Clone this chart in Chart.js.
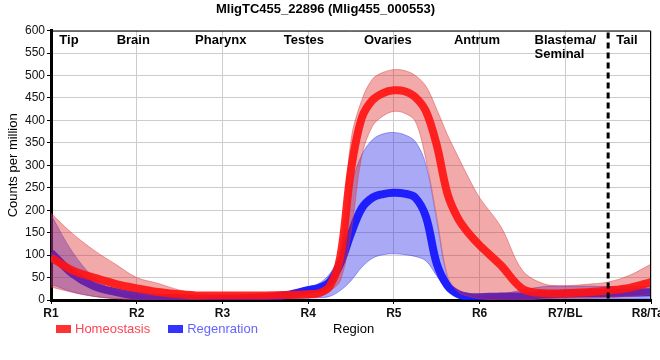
<!DOCTYPE html>
<html lang="en">
<head>
<meta charset="utf-8">
<script src="https://cdn.jsdelivr.net/npm/chart.js@4.4.1/dist/chart.umd.min.js"></script>
<style>
    html, body { margin: 0; padding: 0; background: #fff; overflow: hidden; }
    .chartBox { position: relative; width: 660px; height: 360px; }
    .legend { position: absolute; top: 321px; left: 56px; display: flex; align-items: center;
        font: 13px "Liberation Sans", Arial, sans-serif; }
    .legend span.box { display: inline-block; width: 15px; height: 8px; margin-right: 4px; }
    .legend span.txt { margin-right: 18px; }
    .xTitle { position: absolute; top: 321px; left: 333px; font: 13px "Liberation Sans", Arial, sans-serif; color: #000; }
</style>
</head>
<body>
<div class="chartBox">
    <canvas id="regionChart" width="660" height="360"></canvas>
    <div class="legend">
        <span class="box" style="background:#ff3333"></span><span class="txt" style="color:#ff4455">Homeostasis</span>
        <span class="box" style="background:#3333ff"></span><span class="txt" style="color:#6666ff">Regenration</span>
    </div>
    <div class="xTitle">Region</div>
</div>

<script>
    // sample positions along the body (R1 = 1 ... R8 = 8), denser around the ovary peak
    const positions = [1, 1.25, 1.5, 1.75, 2, 2.25, 2.5, 2.75, 3, 3.25, 3.5, 3.75,
        4, 4.125, 4.25, 4.375, 4.5, 4.625, 4.75, 4.875, 5, 5.125, 5.25, 5.375, 5.5, 5.625, 5.75, 5.875,
        6, 6.25, 6.5, 6.75, 7, 7.25, 7.5, 7.75, 8];

    const homeoMean = [95, 66, 50, 36, 26, 18, 13, 10, 10, 10, 10, 11,
        13, 15, 30, 96, 290, 405, 445, 461, 467, 465, 452, 420, 345, 237, 181, 148,
        122, 77, 25, 15, 15, 17, 21, 27, 40];
    const homeoUpper = [193, 148, 111, 80, 50, 37, 22, 14, 12, 12, 12, 14,
        17, 22, 40, 110, 357, 445, 492, 507, 513, 511, 500, 476, 425, 368, 319, 271,
        228, 163, 66, 36, 32, 35, 40, 55, 80];
    const homeoLower = [29, 17, 8, 3, 1, 0, 0, 2, 3, 3, 3, 4,
        5, 8, 20, 43, 150, 320, 387, 410, 420, 416, 398, 312, 185, 55, 18, 8,
        3, 0, 0, 3, 4, 4, 6, 8, 12];

    const regenMean = [105, 59, 31, 18, 9, 5, 4, 3, 3, 4, 6, 11,
        22, 27, 40, 81, 148, 204, 228, 236, 239, 237, 228, 185, 81, 32, 13, 7,
        6, 8, 8, 12, 14, 15, 15, 16, 17];
    const regenUpper = [190, 107, 50, 20, 10, 7, 6, 6, 6, 7, 10, 18,
        30, 37, 58, 103, 252, 323, 357, 370, 373, 368, 353, 301, 178, 51, 15, 8,
        8, 13, 22, 30, 31, 31, 30, 30, 30];
    const regenLower = [35, 18, 8, 3, 1, 0, 0, 0, 0, 0, 1, 3,
        4, 5, 8, 21, 43, 73, 93, 101, 103, 101, 97, 87, 54, 21, 7, 4,
        2, 0, 1, 2, 3, 3, 3, 3, 3];

    const tickLabels = ['R1', 'R2', 'R3', 'R4', 'R5', 'R6', 'R7/BL', 'R8/Tail'];
    const regionNames = [['Tip'], ['Brain'], ['Pharynx'], ['Testes'], ['Ovaries'], ['Antrum'], ['Blastema/', 'Seminal'], ['Tail']];
    const regionAt = [1.21, 1.96, 2.98, 3.95, 4.93, 5.97, 7.0, 7.72];
    const tailBoundary = 7.5;

    const pts = arr => arr.map((v, i) => ({ x: positions[i], y: v }));

    Chart.defaults.font.family = '"Liberation Sans", Arial, sans-serif';
    Chart.defaults.color = '#111';

    // region names, dashed tail boundary and thin frame
    const regionPlugin = {
        id: 'regionPlugin',
        afterDatasetsDraw(chart) {
            const { ctx, chartArea: a, scales: { x } } = chart;
            ctx.save();
            ctx.strokeStyle = '#000';
            ctx.lineWidth = 1;
            ctx.beginPath();
            ctx.moveTo(a.left, a.top + 0.5);
            ctx.lineTo(a.right - 0.5, a.top + 0.5);
            ctx.lineTo(a.right - 0.5, a.bottom);
            ctx.stroke();

            const bx = x.getPixelForValue(tailBoundary);
            ctx.lineWidth = 3;
            ctx.setLineDash([6, 4]);
            ctx.beginPath();
            ctx.moveTo(bx, a.top + 2);
            ctx.lineTo(bx, a.bottom);
            ctx.stroke();
            ctx.setLineDash([]);

            ctx.fillStyle = '#000';
            ctx.font = 'bold 13px "Liberation Sans", Arial, sans-serif';
            ctx.textBaseline = 'top';
            ctx.textAlign = 'left';
            regionNames.forEach((lines, i) => {
                const cx = x.getPixelForValue(regionAt[i]);
                const left = cx - ctx.measureText(lines[0]).width / 2;
                lines.forEach((t, j) => ctx.fillText(t, left, a.top + 3 + j * 14));
            });
            ctx.restore();
        }
    };

    const band = (data, fillColor, edgeColor, order, fill) => ({
        data: pts(data),
        borderColor: edgeColor,
        borderWidth: 1,
        backgroundColor: fillColor,
        fill: fill,
        pointRadius: 0,
        tension: 0.35,
        order: order
    });

    new Chart(document.getElementById('regionChart'), {
        type: 'line',
        data: {
            datasets: [
                {
                    label: 'Homeostasis',
                    data: pts(homeoMean),
                    borderColor: 'rgba(255, 20, 20, 0.92)',
                    borderWidth: 8,
                    pointRadius: 0,
                    tension: 0.35,
                    fill: false,
                    order: 1
                },
                band(homeoUpper, 'rgba(220, 40, 40, 0.4)', 'rgba(220, 60, 60, 0.45)', 2, '+1'),
                band(homeoLower, 'rgba(220, 40, 40, 0.4)', 'rgba(220, 60, 60, 0.45)', 2, false),
                {
                    label: 'Regenration',
                    data: pts(regenMean),
                    borderColor: 'rgba(20, 20, 255, 0.92)',
                    borderWidth: 8,
                    pointRadius: 0,
                    tension: 0.35,
                    fill: false,
                    order: 3
                },
                band(regenUpper, 'rgba(40, 40, 230, 0.4)', 'rgba(60, 60, 230, 0.45)', 4, '+1'),
                band(regenLower, 'rgba(40, 40, 230, 0.4)', 'rgba(60, 60, 230, 0.45)', 4, false)
            ]
        },
        options: {
            responsive: false,
            animation: false,
            layout: { padding: { top: 0, right: 9, bottom: 36, left: 0 } },
            plugins: {
                legend: { display: false },
                tooltip: { enabled: false },
                title: {
                    display: true,
                    text: 'MligTC455_22896 (Mlig455_000553)',
                    color: '#000',
                    font: { size: 13, weight: 'bold' },
                    padding: { top: 2, bottom: 13 }
                }
            },
            scales: {
                x: {
                    type: 'linear',
                    min: 1,
                    max: 8,
                    afterFit: s => { s.paddingLeft = 0; s.paddingRight = 0; s.height = 24; },
                    ticks: {
                        stepSize: 1,
                        autoSkip: false,
                        maxRotation: 0,
                        padding: 2,
                        font: { size: 12, weight: 'bold' },
                        callback: v => tickLabels[v - 1]
                    },
                    grid: { color: '#cccccc', tickColor: '#000', tickLength: 4 },
                    border: { color: '#000', width: 3 }
                },
                y: {
                    min: 0,
                    max: 600,
                    afterFit: s => { s.width = 51; },
                    ticks: { stepSize: 50, padding: 2, font: { size: 12 } },
                    grid: { color: '#cccccc', tickColor: '#000', tickLength: 4 },
                    border: { color: '#000', width: 3 },
                    title: {
                        display: true,
                        text: 'Counts per million',
                        color: '#000',
                        font: { size: 13 },
                        padding: { top: 6, bottom: 0 }
                    }
                }
            }
        },
        plugins: [regionPlugin]
    });
</script>
</body>
</html>
